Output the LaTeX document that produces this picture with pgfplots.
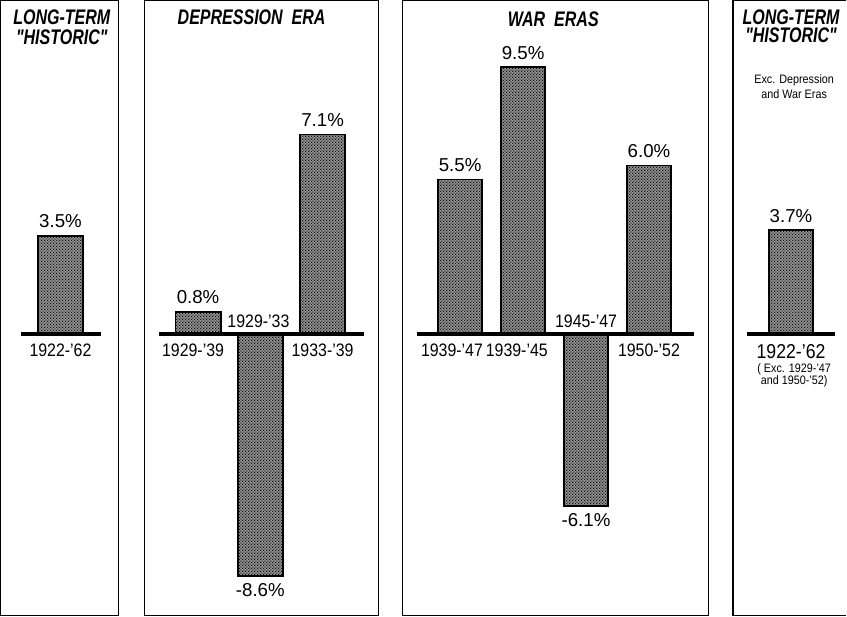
\documentclass[border=0pt]{standalone}
\usepackage{fontspec}
\setmainfont{Liberation Sans}
\newfontfamily\condfont{Liberation Sans}[FakeStretch=0.88]
\newfontfamily\titlefont{Liberation Sans}[FakeStretch=0.76]
\usepackage{pgfplots}
\pgfplotsset{compat=1.18}
\usetikzlibrary{patterns.meta}

\tikzdeclarepattern{
  name=fdots,
  type=uncolored,
  bounding box={(0pt,0pt) and (1.6pt,1.6pt)},
  tile size={(1.6pt,1.6pt)},
  code={
    \fill (0.4pt,0.4pt) circle (0.4pt);
    \fill (1.2pt,1.2pt) circle (0.4pt);
  }
}

\pgfplotsset{
  panel/.style={
    scale only axis, height=306pt, anchor=south west,
    ymin=-10, ymax=11.86,
    xtick=\empty, ytick=\empty,
    axis line style={line width=0.7pt},
    clip=false,
  },
  bars/.style={
    ybar, draw=black, line width=0.9pt,
    fill=black!42,
    postaction={pattern=fdots, pattern color=black},
    nodes near coords={\pgfmathprintnumber[fixed,fixed zerofill,precision=1,assume math mode=true]{\pgfplotspointmeta}\%},
    nodes near coords align={vertical},
    every node near coord/.append style={font=\fontsize{9.3}{10}\selectfont, text=black},
  },
}
\newcommand{\yearfont}{\condfont\fontsize{9}{10}\selectfont}
\newcommand{\tfont}{\titlefont\bfseries\itshape\fontsize{10.5}{12}\selectfont}
\newcommand{\smallfont}{\condfont\fontsize{6.1}{7}\selectfont}

\begin{document}
\begin{tikzpicture}

% Panel 1: long-term historic
\begin{axis}[panel, at={(2.5pt,1pt)}, width=58.5pt, xmin=-0.96, xmax=0.927]
\addplot[bars, bar width=0.726] coordinates {(0,3.5)};
\draw[line width=2pt] (axis cs:-0.637,0) -- (axis cs:0.653,0);
\node[font=\yearfont, yshift=-8pt] at (axis cs:0,0) {1922-’62};
\node[font=\tfont, yshift=-8pt] at (rel axis cs:0.52,1) {LONG-TERM};
\node[font=\tfont, yshift=-18pt] at (rel axis cs:0.52,1) {"HISTORIC"};
\end{axis}

% Panel 2: depression era
\begin{axis}[panel, at={(74pt,1pt)}, width=116.5pt, xmin=-0.863, xmax=2.895]
\addplot[bars, bar width=0.726] coordinates {(0,0.8) (1,-8.6) (2,7.1)};
\draw[line width=2pt] (axis cs:-0.621,0) -- (axis cs:2.669,0);
\node[font=\yearfont, yshift=-8pt] at (axis cs:-0.08,0) {1929-’39};
\node[font=\yearfont, yshift=6.5pt] at (axis cs:0.97,0) {1929-’33};
\node[font=\yearfont, yshift=-8pt] at (axis cs:2,0) {1933-’39};
\node[font=\tfont, yshift=-8pt] at (axis cs:0.86,11.86) {DEPRESSION\ \ ERA};
\end{axis}

% Panel 3: war eras
\begin{axis}[panel, at={(202.5pt,1pt)}, width=152.5pt, xmin=-0.917, xmax=3.949]
\addplot[bars, bar width=0.70] coordinates {(0,5.5) (1,9.5) (2,-6.1) (3,6.0)};
\draw[line width=2pt] (axis cs:-0.678,0) -- (axis cs:3.71,0);
\node[font=\yearfont, yshift=-8pt] at (axis cs:-0.13,0) {1939-’47};
\node[font=\yearfont, yshift=-8pt] at (axis cs:0.9,0) {1939-’45};
\node[font=\yearfont, yshift=6.5pt] at (axis cs:2,0) {1945-’47};
\node[font=\yearfont, yshift=-8pt] at (axis cs:3,0) {1950-’52};
\node[font=\tfont, yshift=-9pt] at (axis cs:1.48,11.86) {WAR\ \ ERAS};
\end{axis}

% Panel 4: long-term historic excluding depression and war eras (right side cut off)
\begin{axis}[panel, at={(367pt,1pt)}, width=56.5pt, xmin=-0.935, xmax=0.888,
  axis lines=none]
\draw[line width=0.7pt] (rel axis cs:1,1) -- (rel axis cs:0,1) -- (rel axis cs:0,0) -- (rel axis cs:1,0);
\addplot[bars, bar width=0.71] coordinates {(0,3.7)};
\draw[line width=2pt] (axis cs:-0.71,0) -- (axis cs:0.71,0);
\node[font=\condfont\fontsize{10}{11}\selectfont, yshift=-8.5pt] at (axis cs:0,0) {1922-’62};
\node[font=\smallfont, yshift=-17.5pt] at (axis cs:0.05,0) {( Exc. 1929-’47};
\node[font=\smallfont, yshift=-23.5pt] at (axis cs:0.05,0) {and 1950-’52)};
\node[font=\tfont, yshift=-8pt] at (axis cs:0,11.86) {LONG-TERM};
\node[font=\tfont, yshift=-17pt] at (axis cs:0,11.86) {"HISTORIC"};
\node[font=\smallfont, yshift=-39.5pt] at (axis cs:0.05,11.86) {Exc. Depression};
\node[font=\smallfont, yshift=-46.5pt] at (axis cs:0.05,11.86) {and War Eras};
\end{axis}

\end{tikzpicture}
\end{document}
